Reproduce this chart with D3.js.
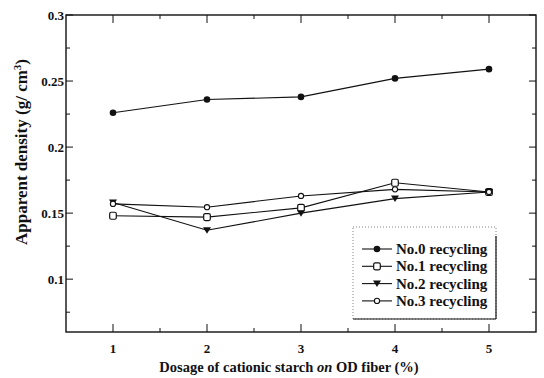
<!DOCTYPE html>
<html><head><meta charset="utf-8">
<script src="https://cdn.jsdelivr.net/npm/d3@7"></script>
<style>body{margin:0;background:#fff}svg{display:block}text{font-family:"Liberation Serif","DejaVu Serif",serif;font-weight:bold;fill:#111}</style>
</head><body><svg id="c" width="544" height="378" font-family="Liberation Serif, DejaVu Serif, serif"></svg>
<script>
const dosage = [1, 2, 3, 4, 5];
const seriesNames = ["No.0 recycling", "No.1 recycling", "No.2 recycling", "No.3 recycling"];
const no0 = [0.226, 0.236, 0.238, 0.252, 0.259];
const no1 = [0.148, 0.147, 0.154, 0.173, 0.166];
const no2 = [0.158, 0.137, 0.150, 0.161, 0.166];
const no3 = [0.157, 0.1545, 0.163, 0.168, 0.166];
const yTicks = [0.1, 0.15, 0.2, 0.25, 0.3];
const yTickLabels = ["0.1", "0.15", "0.2", "0.25", "0.3"];
const xTicks = [1, 2, 3, 4, 5];
const markers = ["filledCircle", "openSquare", "filledTriangle", "openCircle"];

const svg = d3.select("#c");
const L = 66, R = 536, T = 15, B = 332;
const x = d3.scaleLinear().domain([0.5, 5.5]).range([L, R]);
const y = d3.scaleLinear().domain([0.06, 0.3]).range([B, T]);

svg.append("rect").attr("x", L).attr("y", T).attr("width", R - L).attr("height", B - T)
  .attr("fill", "none").attr("stroke", "#111").attr("stroke-width", 1.4);

const xMinor = [1.5, 2.5, 3.5, 4.5];
const yMinor = d3.range(0.075, 0.3, 0.05);
const tg = svg.append("g").attr("stroke", "#111").attr("stroke-width", 1);
xTicks.forEach(v => {
  tg.append("line").attr("x1", x(v)).attr("x2", x(v)).attr("y1", B).attr("y2", B - 8);
  tg.append("line").attr("x1", x(v)).attr("x2", x(v)).attr("y1", T).attr("y2", T + 8);
});
xMinor.forEach(v => {
  tg.append("line").attr("x1", x(v)).attr("x2", x(v)).attr("y1", B).attr("y2", B - 4);
  tg.append("line").attr("x1", x(v)).attr("x2", x(v)).attr("y1", T).attr("y2", T + 4);
});
yTicks.forEach(v => {
  tg.append("line").attr("y1", y(v)).attr("y2", y(v)).attr("x1", L).attr("x2", L + 7);
  tg.append("line").attr("y1", y(v)).attr("y2", y(v)).attr("x1", R).attr("x2", R - 7);
});
yMinor.forEach(v => {
  tg.append("line").attr("y1", y(v)).attr("y2", y(v)).attr("x1", L).attr("x2", L + 4);
  tg.append("line").attr("y1", y(v)).attr("y2", y(v)).attr("x1", R).attr("x2", R - 4);
});

svg.append("g").selectAll("text").data(xTicks).join("text")
  .attr("x", d => x(d)).attr("y", 353).attr("text-anchor", "middle")
  .attr("font-size", 13).text(d => d);
svg.append("g").selectAll("text").data(yTicks).join("text")
  .attr("x", 64).attr("y", d => y(d) + 4.5).attr("text-anchor", "end")
  .attr("font-size", 13).text((d, i) => yTickLabels[i]);

const xt = svg.append("text").attr("x", 289).attr("y", 372).attr("text-anchor", "middle").attr("font-size", 14.5);
xt.append("tspan").text("Dosage of cationic starch ");
xt.append("tspan").attr("font-style", "italic").text("on");
xt.append("tspan").text(" OD fiber (%)");
const yt = svg.append("text").attr("transform", "translate(27,152) rotate(-90)").attr("text-anchor", "middle").attr("font-size", 17);
yt.append("tspan").text("Apparent density (g/ cm");
yt.append("tspan").attr("font-size", 11).attr("dy", -6).text("3");
yt.append("tspan").attr("dy", 6).text(")");

const data = [no0, no1, no2, no3];
const line = d3.line().x((d, i) => x(dosage[i])).y(d => y(d));
function drawMarker(g, type, cx, cy) {
  if (type === "filledCircle") g.append("circle").attr("cx", cx).attr("cy", cy).attr("r", 3.3).attr("fill", "#111");
  else if (type === "openSquare") g.append("rect").attr("x", cx - 3.3).attr("y", cy - 3.5).attr("width", 6.6).attr("height", 7).attr("rx", 1.5)
    .attr("fill", "#fff").attr("stroke", "#111").attr("stroke-width", 1.2);
  else if (type === "filledTriangle") g.append("path").attr("d", `M${cx - 4},${cy - 3}L${cx + 4},${cy - 3}L${cx},${cy + 3.5}Z`).attr("fill", "#111");
  else g.append("circle").attr("cx", cx).attr("cy", cy).attr("r", 2.6).attr("fill", "#fff").attr("stroke", "#111").attr("stroke-width", 1.1);
}
data.forEach((vals, s) => {
  const g = svg.append("g");
  g.append("path").attr("d", line(vals)).attr("fill", "none").attr("stroke", "#111").attr("stroke-width", 1.1);
  vals.forEach((v, i) => drawMarker(g, markers[s], x(dosage[i]), y(v)));
});

const lg = svg.append("g");
lg.append("rect").attr("x", 353).attr("y", 227).attr("width", 143).attr("height", 92)
  .attr("fill", "#fff").attr("stroke", "#666").attr("stroke-width", 0.8).attr("stroke-dasharray", "1,2");
lg.append("line").attr("x1", 496).attr("x2", 496).attr("y1", 236).attr("y2", 319).attr("stroke", "#111").attr("stroke-width", 1.2);
lg.append("line").attr("x1", 353).attr("x2", 496).attr("y1", 319).attr("y2", 319).attr("stroke", "#111").attr("stroke-width", 1.2);
seriesNames.forEach((name, i) => {
  const ry = 249 + i * 17.3;
  lg.append("line").attr("x1", 362).attr("x2", 392).attr("y1", ry).attr("y2", ry).attr("stroke", "#111").attr("stroke-width", 1.1);
  drawMarker(lg, markers[i], 377, ry);
  lg.append("text").attr("x", 396).attr("y", ry + 5).attr("font-size", 15).text(name);
});
</script></body></html>
